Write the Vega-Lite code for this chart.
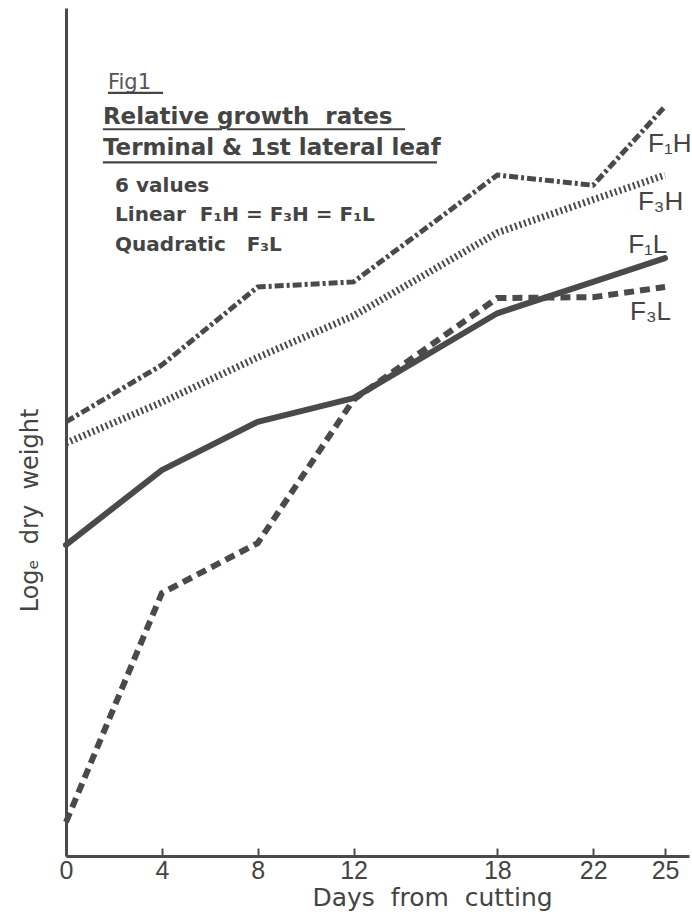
{
  "$schema": "https://vega.github.io/schema/vega-lite/v6.json",
  "width": 623,
  "height": 848,
  "autosize": {"type": "none"},
  "padding": {"left": 66, "top": 8, "right": 3, "bottom": 64},
  "background": "white",
  "config": {"view": {"stroke": null}, "font": "DejaVu Sans"},
  "datasets": {
    "lines": [
      {"series": "F1H", "day": 0, "value": 51.2},
      {"series": "F1H", "day": 4, "value": 57.9},
      {"series": "F1H", "day": 8, "value": 67.1},
      {"series": "F1H", "day": 12, "value": 67.7},
      {"series": "F1H", "day": 18, "value": 80.3},
      {"series": "F1H", "day": 22, "value": 79.1},
      {"series": "F1H", "day": 25, "value": 88.4},
      {"series": "F3H", "day": 0, "value": 48.7},
      {"series": "F3H", "day": 4, "value": 53.5},
      {"series": "F3H", "day": 8, "value": 58.8},
      {"series": "F3H", "day": 12, "value": 63.7},
      {"series": "F3H", "day": 18, "value": 73.5},
      {"series": "F3H", "day": 22, "value": 77.4},
      {"series": "F3H", "day": 25, "value": 80.3},
      {"series": "F1L", "day": 0, "value": 36.7},
      {"series": "F1L", "day": 4, "value": 45.5},
      {"series": "F1L", "day": 8, "value": 51.2},
      {"series": "F1L", "day": 12, "value": 54.0},
      {"series": "F1L", "day": 18, "value": 64.0},
      {"series": "F1L", "day": 22, "value": 67.7},
      {"series": "F1L", "day": 25, "value": 70.5},
      {"series": "F3L", "day": 0, "value": 4.0},
      {"series": "F3L", "day": 4, "value": 31.0},
      {"series": "F3L", "day": 8, "value": 36.9},
      {"series": "F3L", "day": 12, "value": 53.8},
      {"series": "F3L", "day": 18, "value": 65.8},
      {"series": "F3L", "day": 22, "value": 65.9},
      {"series": "F3L", "day": 25, "value": 67.1}
    ],
    "labels": [
      {"day": 24.29, "value": 83.0, "label": "F₁H"},
      {"day": 23.87, "value": 76.2, "label": "F₃H"},
      {"day": 23.46, "value": 71.1, "label": "F₁L"},
      {"day": 23.54, "value": 63.2, "label": "F₃L"}
    ],
    "fig": [
      {"day": 1.75, "value": 90.5, "label": "Fig1"}
    ],
    "headings": [
      {"day": 1.54, "value": 86.3, "label": "Relative growth\u00a0 rates"},
      {"day": 1.54, "value": 82.7, "label": "Terminal & 1st lateral leaf"}
    ],
    "notes": [
      {"day": 2.05, "value": 78.3, "label": "6 values"},
      {"day": 2.05, "value": 74.9, "label": "Linear\u00a0\u00a0F₁H = F₃H = F₁L"},
      {"day": 2.05, "value": 71.3, "label": "Quadratic\u00a0\u00a0\u00a0F₃L"}
    ],
    "underlines": [
      {"day": 1.75, "day2": 4.05, "value": 90.0},
      {"day": 1.54, "day2": 6.51, "value": 85.7},
      {"day": 6.72, "day2": 14.15, "value": 85.7},
      {"day": 1.54, "day2": 15.48, "value": 81.8}
    ]
  },
  "layer": [
    {
      "data": {"name": "lines"},
      "transform": [{"filter": "datum.series == 'F1L'"}],
      "mark": {"type": "line", "color": "#4a4a4a", "strokeWidth": 6, "strokeCap": "round", "strokeJoin": "round"},
      "encoding": {
        "x": {
          "field": "day", "type": "quantitative",
          "scale": {"domain": [0, 26], "nice": false, "zero": false},
          "axis": {
            "values": [0, 4, 8, 12, 18, 22, 25],
            "title": "Days\u00a0 from\u00a0 cutting",
            "grid": false,
            "domainColor": "#4a4a4a", "domainWidth": 3,
            "tickColor": "#4a4a4a", "tickWidth": 2, "tickSize": -8,
            "labelPadding": 10, "labelFlush": false, "labelOverlap": false,
            "labelFont": "Liberation Sans", "labelFontSize": 25, "labelColor": "#444",
            "titleFont": "DejaVu Sans", "titleFontSize": 25, "titleFontWeight": "normal", "titleColor": "#444",
            "titleX": 366, "titleY": 49, "titleBaseline": "alphabetic", "titleAlign": "center"
          }
        },
        "y": {
          "field": "value", "type": "quantitative",
          "scale": {"domain": [0, 100], "nice": false, "zero": false},
          "axis": {
            "title": "Logₑ\u00a0 dry\u00a0 weight",
            "ticks": false, "labels": false, "grid": false,
            "domainColor": "#4a4a4a", "domainWidth": 3,
            "titleFont": "DejaVu Sans", "titleFontSize": 24, "titleFontWeight": "normal", "titleColor": "#444",
            "titleAngle": -90, "titleX": -29, "titleY": 502, "titleBaseline": "alphabetic", "titleAlign": "center"
          }
        }
      }
    },
    {
      "data": {"name": "lines"},
      "transform": [{"filter": "datum.series == 'F1H'"}],
      "mark": {"type": "line", "color": "#4a4a4a", "strokeWidth": 5, "strokeDash": [9, 3, 3, 3], "strokeCap": "butt"},
      "encoding": {
        "x": {"field": "day", "type": "quantitative"},
        "y": {"field": "value", "type": "quantitative"}
      }
    },
    {
      "data": {"name": "lines"},
      "transform": [{"filter": "datum.series == 'F3H'"}],
      "mark": {"type": "line", "color": "#4a4a4a", "strokeWidth": 7, "strokeDash": [2, 2.8], "strokeCap": "butt"},
      "encoding": {
        "x": {"field": "day", "type": "quantitative"},
        "y": {"field": "value", "type": "quantitative"}
      }
    },
    {
      "data": {"name": "lines"},
      "transform": [{"filter": "datum.series == 'F3L'"}],
      "mark": {"type": "line", "color": "#4a4a4a", "strokeWidth": 6, "strokeDash": [10, 6], "strokeCap": "butt"},
      "encoding": {
        "x": {"field": "day", "type": "quantitative"},
        "y": {"field": "value", "type": "quantitative"}
      }
    },
    {
      "data": {"name": "labels"},
      "mark": {"type": "text", "align": "left", "baseline": "alphabetic", "font": "Liberation Sans", "fontSize": 26, "color": "#444"},
      "encoding": {
        "x": {"field": "day", "type": "quantitative"},
        "y": {"field": "value", "type": "quantitative"},
        "text": {"field": "label"}
      }
    },
    {
      "data": {"name": "fig"},
      "mark": {"type": "text", "align": "left", "baseline": "alphabetic", "font": "DejaVu Sans", "fontSize": 21, "color": "#555"},
      "encoding": {
        "x": {"field": "day", "type": "quantitative"},
        "y": {"field": "value", "type": "quantitative"},
        "text": {"field": "label"}
      }
    },
    {
      "data": {"name": "headings"},
      "mark": {"type": "text", "align": "left", "baseline": "alphabetic", "font": "DejaVu Sans", "fontWeight": "bold", "fontSize": 23, "color": "#444"},
      "encoding": {
        "x": {"field": "day", "type": "quantitative"},
        "y": {"field": "value", "type": "quantitative"},
        "text": {"field": "label"}
      }
    },
    {
      "data": {"name": "notes"},
      "mark": {"type": "text", "align": "left", "baseline": "alphabetic", "font": "DejaVu Sans", "fontWeight": "bold", "fontSize": 20, "color": "#444"},
      "encoding": {
        "x": {"field": "day", "type": "quantitative"},
        "y": {"field": "value", "type": "quantitative"},
        "text": {"field": "label"}
      }
    },
    {
      "data": {"name": "underlines"},
      "mark": {"type": "rule", "color": "#444", "strokeWidth": 2.2},
      "encoding": {
        "x": {"field": "day", "type": "quantitative"},
        "x2": {"field": "day2"},
        "y": {"field": "value", "type": "quantitative"}
      }
    }
  ]
}
